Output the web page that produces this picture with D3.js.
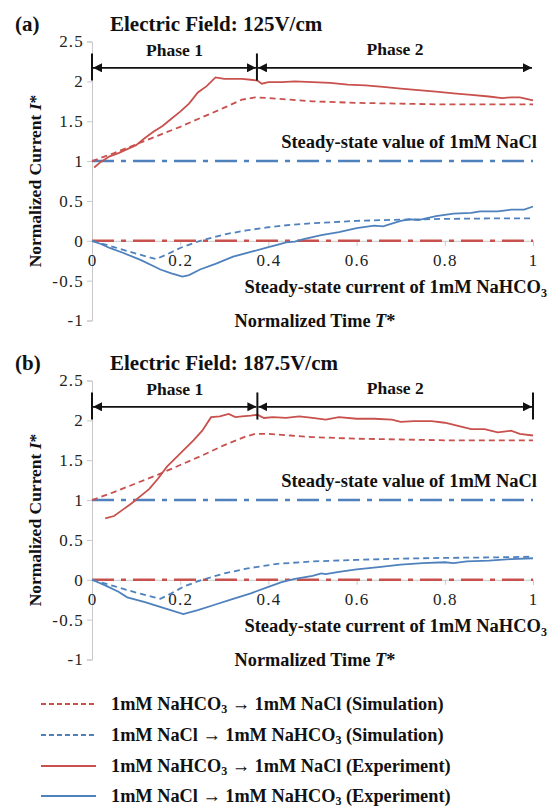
<!DOCTYPE html>
<html>
<head>
<meta charset="utf-8">
<script src="https://cdn.jsdelivr.net/npm/d3@7"></script>
<style>
  body { margin: 0; background: #fff; }
  svg text { font-family: "Liberation Serif", "Times New Roman", serif; fill: #111; }
  .bold { font-weight: bold; }
</style>
</head>
<body>
<div id="chart"></div>
<script>
// tick values
var yTicks = [-1, -0.5, 0, 0.5, 1, 1.5, 2, 2.5],
    xTicks = [0, 0.2, 0.4, 0.6, 0.8, 1];

// panel (a) 125V/cm  -- [T*, I*]
var simRedA = [[0,1.0],[0.05,1.1],[0.1,1.21],[0.15,1.32],[0.2,1.43],[0.25,1.55],[0.3,1.67],[0.34,1.77],[0.37,1.8],[0.4,1.79],[0.45,1.77],[0.5,1.75],[0.6,1.73],[0.7,1.72],[0.8,1.71],[0.9,1.71],[1.0,1.71]];
var simBlueA = [[0,0],[0.05,-0.08],[0.1,-0.16],[0.145,-0.23],[0.17,-0.17],[0.2,-0.09],[0.245,0],[0.3,0.08],[0.35,0.13],[0.4,0.17],[0.45,0.2],[0.5,0.22],[0.6,0.25],[0.7,0.265],[0.8,0.275],[0.9,0.28],[1,0.28]];
var expRedA = [[0.005,0.92],[0.02,0.99],[0.04,1.06],[0.06,1.1],[0.08,1.15],[0.1,1.2],[0.12,1.29],[0.14,1.37],[0.16,1.44],[0.18,1.53],[0.2,1.62],[0.22,1.72],[0.24,1.86],[0.26,1.94],[0.28,2.05],[0.3,2.03],[0.32,2.03],[0.34,2.03],[0.36,2.02],[0.375,2.01],[0.385,1.97],[0.4,1.99],[0.43,1.99],[0.46,2.0],[0.5,1.99],[0.54,1.98],[0.58,1.96],[0.62,1.95],[0.66,1.93],[0.7,1.91],[0.74,1.89],[0.78,1.87],[0.82,1.85],[0.86,1.83],[0.9,1.81],[0.93,1.79],[0.95,1.8],[0.97,1.8],[0.985,1.78],[1.0,1.76]];
var expBlueA = [[0,0],[0.02,-0.04],[0.04,-0.09],[0.07,-0.15],[0.11,-0.24],[0.14,-0.32],[0.155,-0.36],[0.18,-0.41],[0.205,-0.45],[0.22,-0.43],[0.245,-0.36],[0.28,-0.29],[0.32,-0.2],[0.36,-0.14],[0.4,-0.08],[0.42,-0.05],[0.44,-0.02],[0.46,-0.01],[0.48,0.02],[0.52,0.07],[0.56,0.11],[0.6,0.16],[0.64,0.19],[0.66,0.18],[0.7,0.25],[0.72,0.27],[0.74,0.26],[0.78,0.31],[0.82,0.34],[0.86,0.35],[0.88,0.37],[0.92,0.37],[0.95,0.39],[0.98,0.39],[1.0,0.43]];

// panel (b) 187.5V/cm
var simRedB = [[0,1.0],[0.05,1.1],[0.1,1.21],[0.15,1.32],[0.2,1.44],[0.25,1.56],[0.3,1.69],[0.35,1.8],[0.37,1.83],[0.4,1.83],[0.45,1.81],[0.5,1.79],[0.6,1.77],[0.7,1.76],[0.8,1.75],[1.0,1.75]];
var simBlueB = [[0,0],[0.05,-0.08],[0.1,-0.16],[0.155,-0.24],[0.18,-0.17],[0.21,-0.08],[0.25,0],[0.3,0.08],[0.35,0.14],[0.42,0.2],[0.5,0.23],[0.6,0.25],[0.7,0.265],[0.8,0.275],[0.9,0.28],[1,0.29]];
var expRedB = [[0.03,0.77],[0.05,0.8],[0.07,0.88],[0.09,0.96],[0.11,1.05],[0.13,1.14],[0.15,1.27],[0.17,1.42],[0.19,1.53],[0.21,1.64],[0.23,1.75],[0.25,1.87],[0.27,2.04],[0.29,2.05],[0.31,2.08],[0.325,2.04],[0.34,2.05],[0.36,2.06],[0.375,2.07],[0.39,2.03],[0.41,2.04],[0.44,2.03],[0.47,2.05],[0.5,2.03],[0.53,2.01],[0.56,2.04],[0.6,2.02],[0.64,2.02],[0.68,2.01],[0.7,1.98],[0.73,1.99],[0.77,1.99],[0.8,1.97],[0.83,1.93],[0.86,1.89],[0.89,1.89],[0.92,1.85],[0.95,1.87],[0.97,1.83],[1.0,1.81]];
var expBlueB = [[0,0],[0.03,-0.07],[0.06,-0.15],[0.08,-0.22],[0.12,-0.28],[0.16,-0.35],[0.207,-0.43],[0.24,-0.38],[0.28,-0.31],[0.32,-0.24],[0.36,-0.17],[0.4,-0.09],[0.43,-0.03],[0.46,0.01],[0.5,0.05],[0.52,0.08],[0.53,0.07],[0.56,0.1],[0.6,0.13],[0.65,0.16],[0.7,0.19],[0.75,0.21],[0.8,0.22],[0.82,0.21],[0.85,0.23],[0.9,0.24],[0.95,0.26],[1,0.27]];

var panels = [
  {tag: "(a)", field: "125V/cm", top: 0, phase: 0.374, endBar: false,
   simRed: simRedA, simBlue: simBlueA, expRed: expRedA, expBlue: expBlueA},
  {tag: "(b)", field: "187.5V/cm", top: 339, phase: 0.375, endBar: true,
   simRed: simRedB, simBlue: simBlueB, expRed: expRedB, expBlue: expBlueB}
];

var red = "#c8504d", blue = "#4f81bd", axisGray = "#c8c8c8";

var svg = d3.select("#chart").append("svg")
    .attr("width", 548)
    .attr("height", 810);

var defs = svg.append("defs");
defs.append("marker")
    .attr("id", "arrow")
    .attr("viewBox", "0 0 10 10")
    .attr("refX", 10).attr("refY", 5)
    .attr("markerWidth", 5).attr("markerHeight", 5)
    .attr("orient", "auto-start-reverse")
  .append("path")
    .attr("d", "M0,0 L10,5 L0,10 z")
    .attr("fill", "#111");

var x = d3.scaleLinear().domain([0, 1]).range([92, 533]);

panels.forEach(function(p) {
    var y = d3.scaleLinear().domain([-1, 2.5]).range([320.5 + p.top, 41.5 + p.top]);
    var g = svg.append("g");

    var line = d3.line()
        .x(function(d) { return x(d[0]); })
        .y(function(d) { return y(d[1]); });

    // y axis
    var yAxis = g.append("g")
        .attr("transform", "translate(" + x(0) + ",0)")
        .call(d3.axisLeft(y).tickValues(yTicks).tickSize(5).tickPadding(3)
            .tickFormat(function(d) { return d; }));
    yAxis.select(".domain").attr("stroke", axisGray);
    yAxis.selectAll(".tick line").attr("stroke", axisGray);
    yAxis.selectAll("text")
        .style("font-size", "17px")
        .style("letter-spacing", "1.2px")
        .style("font-family", "Liberation Serif")
        .style("fill", "#222");

    // x axis through zero
    var xAxis = g.append("g")
        .attr("transform", "translate(0," + y(0) + ")")
        .call(d3.axisBottom(x).tickValues(xTicks).tickSize(5).tickPadding(8)
            .tickFormat(function(d) { return d; }));
    xAxis.select(".domain").attr("stroke", axisGray);
    xAxis.selectAll(".tick line").attr("stroke", axisGray);
    xAxis.selectAll("text")
        .style("font-size", "17px")
        .style("letter-spacing", "1.2px")
        .style("font-family", "Liberation Serif")
        .style("fill", "#222");

    // steady-state reference lines
    g.append("line")
        .attr("x1", x(0)).attr("x2", x(1))
        .attr("y1", y(1)).attr("y2", y(1))
        .attr("stroke", blue).attr("stroke-width", 2.5)
        .attr("stroke-dasharray", "22,7,5,7");
    g.append("line")
        .attr("x1", x(0)).attr("x2", x(1))
        .attr("y1", y(0)).attr("y2", y(0))
        .attr("stroke", red).attr("stroke-width", 2.5)
        .attr("stroke-dasharray", "22,7,5,7");

    // data lines
    g.append("path").datum(p.simRed)
        .attr("d", line).attr("fill", "none")
        .attr("stroke", red).attr("stroke-width", 1.8)
        .attr("stroke-dasharray", "6,4");
    g.append("path").datum(p.simBlue)
        .attr("d", line).attr("fill", "none")
        .attr("stroke", blue).attr("stroke-width", 1.8)
        .attr("stroke-dasharray", "6,4");
    g.append("path").datum(p.expRed)
        .attr("d", line).attr("fill", "none")
        .attr("stroke", red).attr("stroke-width", 1.8);
    g.append("path").datum(p.expBlue)
        .attr("d", line).attr("fill", "none")
        .attr("stroke", blue).attr("stroke-width", 1.8);

    // phase arrows
    var bars = [0, p.phase];
    if (p.endBar) bars.push(1);
    bars.forEach(function(b) {
        g.append("line")
            .attr("x1", x(b)).attr("x2", x(b))
            .attr("y1", y(2.35)).attr("y2", y(2.01))
            .attr("stroke", "#111").attr("stroke-width", 2);
    });
    [[0, p.phase], [p.phase, 1]].forEach(function(s) {
        g.append("line")
            .attr("x1", x(s[0]) + 1).attr("x2", x(s[1]) - 1)
            .attr("y1", y(2.17)).attr("y2", y(2.17))
            .attr("stroke", "#111").attr("stroke-width", 1.8)
            .attr("marker-start", "url(#arrow)")
            .attr("marker-end", "url(#arrow)");
    });
    g.append("text").attr("class", "bold")
        .attr("x", x(p.phase / 2)).attr("y", y(2.39))
        .attr("dy", "0.35em").attr("text-anchor", "middle")
        .style("font-size", "17.5px")
        .text("Phase 1");
    g.append("text").attr("class", "bold")
        .attr("x", x((p.phase + 1) / 2)).attr("y", y(2.41))
        .attr("dy", "0.35em").attr("text-anchor", "middle")
        .style("font-size", "17.5px")
        .text("Phase 2");

    // titles
    g.append("text").attr("class", "bold")
        .attr("x", 15).attr("y", y(2.72)).attr("dy", "0.35em")
        .style("font-size", "21px")
        .text(p.tag);
    g.append("text").attr("class", "bold")
        .attr("x", 110).attr("y", y(2.72)).attr("dy", "0.35em")
        .style("font-size", "21px")
        .text("Electric Field: " + p.field);

    // annotations
    g.append("text").attr("class", "bold")
        .attr("x", 537).attr("y", y(1.24)).attr("dy", "0.35em")
        .attr("text-anchor", "end")
        .style("font-size", "18.5px")
        .text("Steady-state value of 1mM NaCl");
    var t2 = g.append("text").attr("class", "bold")
        .attr("x", 547).attr("y", y(-0.57)).attr("dy", "0.35em")
        .attr("text-anchor", "end")
        .style("font-size", "18.5px");
    t2.append("tspan").text("Steady-state current of 1mM NaHCO");
    t2.append("tspan").attr("dy", "4").style("font-size", "12px").text("3");

    var xt = g.append("text").attr("class", "bold")
        .attr("x", 315).attr("y", y(-1)).attr("dy", "0.35em")
        .attr("text-anchor", "middle")
        .style("font-size", "18.3px");
    xt.append("tspan").text("Normalized Time ");
    xt.append("tspan").style("font-style", "italic").text("T");
    xt.append("tspan").text("*");

    var yt = g.append("text").attr("class", "bold")
        .attr("transform", "translate(35," + y(0.75) + ") rotate(-90)")
        .attr("dy", "0.35em")
        .attr("text-anchor", "middle")
        .style("font-size", "17.5px");
    yt.append("tspan").text("Normalized Current ");
    yt.append("tspan").style("font-style", "italic").text("I");
    yt.append("tspan").text("*");
});

// legend
var legendRows = [
  {color: red, dash: "5,3", pre: "1mM NaHCO", sub: "3", post: " \u2192 1mM NaCl (Simulation)"},
  {color: blue, dash: "5,3", pre: "1mM NaCl \u2192 1mM NaHCO", sub: "3", post: " (Simulation)"},
  {color: red, dash: null, pre: "1mM NaHCO", sub: "3", post: " \u2192 1mM NaCl (Experiment)"},
  {color: blue, dash: null, pre: "1mM NaCl \u2192 1mM NaHCO", sub: "3", post: " (Experiment)"}
];
var legendY = [704, 735, 766, 796];

legendRows.forEach(function(r, i) {
    var ly = legendY[i];
    svg.append("line")
        .attr("x1", 41).attr("x2", 96)
        .attr("y1", ly).attr("y2", ly)
        .attr("stroke", r.color).attr("stroke-width", 2)
        .attr("stroke-dasharray", r.dash);
    var t = svg.append("text").attr("class", "bold")
        .attr("x", 111).attr("y", ly).attr("dy", "0.35em")
        .style("font-size", "18.3px");
    t.append("tspan").text(r.pre);
    t.append("tspan").attr("dy", "3").style("font-size", "12px").text(r.sub);
    t.append("tspan").attr("dy", "-3").text(r.post);
});
</script>
</body>
</html>
